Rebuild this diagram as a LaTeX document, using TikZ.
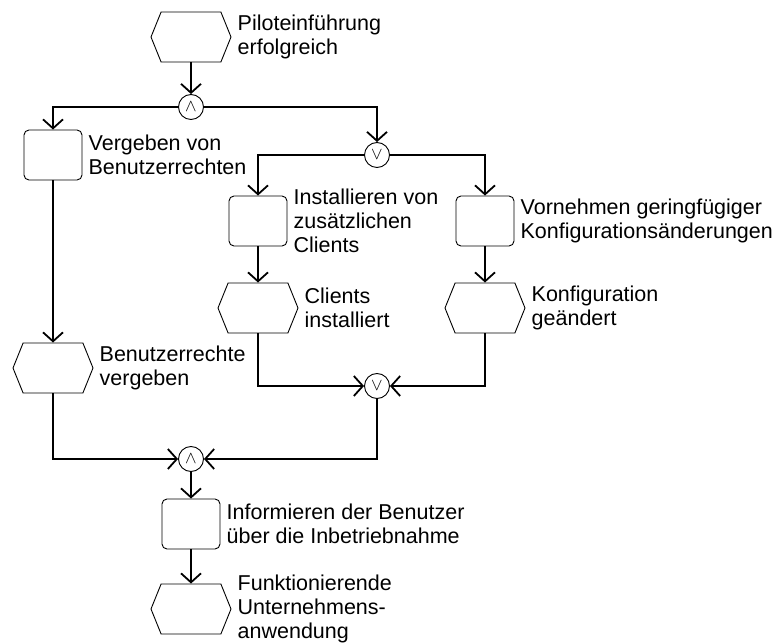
\documentclass[tikz,border=0pt]{standalone}
\usepackage{fontspec}
\setmainfont{Liberation Sans}
\usetikzlibrary{positioning, shapes.symbols, arrows.meta}

\begin{document}
\begin{tikzpicture}[x=1pt, y=-1pt,
  every node/.style={inner sep=0pt},
  event/.style={draw, line width=0.9pt, shape=signal, signal to=west and east,
    signal pointer angle=136, minimum width=80pt, minimum height=50pt},
  func/.style={draw, line width=0.9pt, rounded corners=5pt,
    minimum width=58pt, minimum height=50pt},
  conn/.style={draw, line width=0.9pt, circle, minimum size=25pt,
    font=\fontsize{19}{19}\selectfont},
  lbl/.style={align=left, font=\fontsize{21.5}{24}\selectfont},
  flow/.style={line width=1.8pt, -{Straight Barb[length=9pt, width=20pt]}}
]
  \useasboundingbox (0,0) rectangle (777,644);

  % start and split
  \node[event] (e1) at (191,37) {};
  \node[lbl, right=6pt of e1] (e1t) {Piloteinführung\\erfolgreich};
  \node[conn] (and1) at (191,107) {$\wedge$};

  % left branch
  \node[func] (f1) at (53,155) {};
  \node[lbl, right=6pt of f1] (f1t) {Vergeben von\\Benutzerrechten};
  \node[event] (e4) at (53,368) {};
  \node[lbl, right=6pt of e4] (e4t) {Benutzerrechte\\vergeben};

  % right branch
  \node[conn] (or1) at (377,155) {$\vee$};
  \node[func] (f2) at (258,221) {};
  \node[lbl, right=6pt of f2] (f2t) {Installieren von\\zusätzlichen\\Clients};
  \node[func] (f3) at (485,221) {};
  \node[lbl, right=6pt of f3] (f3t) {Vornehmen geringfügiger\\Konfigurationsänderungen};
  \node[event] (e2) at (258,308) {};
  \node[lbl, right=6pt of e2] (e2t) {Clients\\installiert};
  \node[event] (e3) at (485,308) {};
  \node[lbl, right=6pt of e3] (e3t) {Konfiguration\\geändert};
  \node[conn] (or2) at (377,386) {$\vee$};

  % join and end
  \node[conn] (and2) at (191,459) {$\wedge$};
  \node[func] (f4) at (191,524) {};
  \node[lbl, right=6pt of f4] (f4t) {Informieren der Benutzer\\über die Inbetriebnahme};
  \node[event] (e5) at (191,609) {};
  \node[lbl, right=6pt of e5] (e5t) {Funktionierende\\Unternehmens-\\anwendung};

  \draw[flow] (e1) -- (and1);
  \draw[flow] (and1) -| (f1);
  \draw[flow] (and1) -| (or1);
  \draw[flow] (or1) -| (f2);
  \draw[flow] (or1) -| (f3);
  \draw[flow] (f2) -- (e2);
  \draw[flow] (f3) -- (e3);
  \draw[flow] (e2) |- (or2);
  \draw[flow] (e3) |- (or2);
  \draw[flow] (f1) -- (e4);
  \draw[flow] (e4) |- (and2);
  \draw[flow] (or2) |- (and2);
  \draw[flow] (and2) -- (f4);
  \draw[flow] (f4) -- (e5);
\end{tikzpicture}
\end{document}
